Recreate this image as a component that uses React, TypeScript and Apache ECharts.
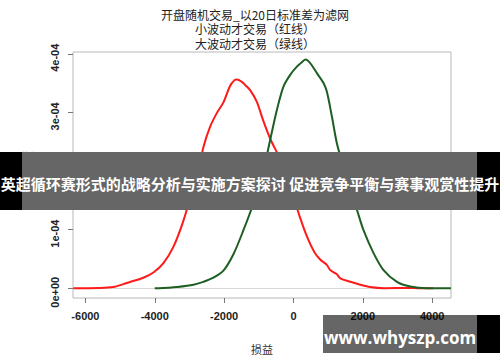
import React, { useEffect, useRef } from "react";
import * as echarts from "echarts";

// Red: small-volatility trades (density, units of 1e-4)
const redX = [-6350, -5600, -5200, -4900, -4700, -4330, -4040, -3750, -3460, -3175, -2886, -2790, -2600, -2400, -2200, -2020, -1830, -1700, -1633, -1490, -1380, -1250, -1056, -866, -670, -480, -380, -190, 0, 193, 390, 600, 770, 960, 1060, 1250, 1350, 1640, 1925, 2210, 2600, 3300, 3600, 4030];
const redY = [0, 0.005, 0.02, 0.07, 0.11, 0.18, 0.27, 0.43, 0.71, 1.15, 1.72, 1.86, 2.4, 2.76, 3.0, 3.17, 3.45, 3.55, 3.56, 3.52, 3.46, 3.38, 3.18, 2.85, 2.55, 2.32, 2.2, 1.95, 1.56, 1.2, 0.88, 0.62, 0.49, 0.4, 0.31, 0.24, 0.17, 0.11, 0.06, 0.02, 0.0, 0.005, 0.0, 0];

// Green: large-volatility trades (density, units of 1e-4)
const greenX = [-4000, -3600, -3365, -2886, -2600, -2309, -2020, -1732, -1443, -1154, -866, -672, -479, -289, -95, 98, 250, 350, 482, 675, 866, 964, 1108, 1253, 1443, 1636, 1830, 2020, 2309, 2597, 2984, 3368, 3850, 4540];
const greenY = [0, 0.01, 0.02, 0.06, 0.11, 0.18, 0.3, 0.58, 0.99, 1.45, 2.02, 2.53, 3.04, 3.44, 3.64, 3.78, 3.86, 3.9, 3.84, 3.67, 3.5, 3.35, 2.93, 2.47, 2.07, 1.68, 1.34, 0.99, 0.6, 0.31, 0.11, 0.03, 0.0, 0];

const xTicks = [-6000, -4000, -2000, 0, 2000, 4000];
const xTickLabels = ["-6000", "-4000", "-2000", "0", "2000", "4000"];
const yTicks = [0, 1e-4, 2e-4, 3e-4, 4e-4];
const yTickLabels = ["0e+00", "1e-04", "2e-04", "3e-04", "4e-04"];

const titleLines = ["开盘随机交易_以20日标准差为滤网", "小波动才交易（红线）", "大波动才交易（绿线）"];
const xName = "损益";
const yName = "概率密度";
const bannerText = "英超循环赛形式的战略分析与实施方案探讨 促进竞争平衡与赛事观赏性提升";
const watermarkText = "www.whyszp.com";

const E4 = 1e-4;

function pick(ticks: number[], labels: string[], v: number, eps: number) {
  const i = ticks.findIndex((t) => Math.abs(t - v) < eps);
  return i >= 0 ? labels[i] : "";
}

export default function App() {
  const ref = useRef<HTMLDivElement>(null);
  useEffect(() => {
    if (!ref.current) return;
    const chart = echarts.init(ref.current, null, { renderer: "svg" });
    const cjk = "'Noto Sans CJK SC', sans-serif";
    const option = {
      animation: false,
      backgroundColor: "#ffffff",
      title: titleLines.map((t, i) => ({
        text: t,
        left: 255,
        top: 7 + i * 14.5,
        padding: 0,
        textAlign: "center",
        textStyle: { fontSize: 12, lineHeight: 14, fontWeight: "normal", color: "#222", fontFamily: cjk },
      })),
      grid: { left: 73, right: 49, top: 52, bottom: 64, show: true, borderColor: "#b8b8b8", borderWidth: 1, backgroundColor: "transparent" },
      xAxis: {
        type: "value",
        min: -6358,
        max: 4543,
        name: xName,
        nameLocation: "middle",
        nameGap: 45,
        nameTextStyle: { fontSize: 11, color: "#333", fontFamily: cjk },
        axisLine: { show: false, onZero: false },
        splitLine: { show: false },
        axisTick: { show: true, length: 5, lineStyle: { color: "#777" }, customValues: xTicks },
        axisLabel: {
          customValues: xTicks,
          margin: 12,
          fontSize: 11,
          fontWeight: "bold",
          color: "#222",
          fontFamily: "'Liberation Sans', Arial, sans-serif",
          formatter: (v: number) => pick(xTicks, xTickLabels, v, 1e-6),
        },
      },
      yAxis: {
        type: "value",
        min: -0.166e-4,
        max: 4.03e-4,
        name: yName,
        nameLocation: "middle",
        nameGap: 40,
        nameTextStyle: { fontSize: 12, color: "#333", fontFamily: cjk },
        axisLine: { show: false, onZero: false },
        splitLine: { show: false },
        axisTick: { show: true, length: 5, lineStyle: { color: "#777" }, customValues: yTicks },
        axisLabel: {
          customValues: yTicks,
          rotate: 90,
          margin: 13,
          padding: [0, 8, 0, 0],
          fontSize: 11,
          fontWeight: "bold",
          color: "#222",
          fontFamily: "'Liberation Sans', Arial, sans-serif",
          formatter: (v: number) => pick(yTicks, yTickLabels, v, 1e-9),
        },
      },
      series: [
        {
          type: "line",
          name: "red",
          data: redX.map((x, i) => [x, redY[i] * E4]),
          smooth: 0.3,
          symbol: "none",
          lineStyle: { color: "#ff1a1a", width: 2 },
          z: 3,
          markLine: {
            silent: true,
            symbol: "none",
            label: { show: false },
            lineStyle: { color: "#d8d8d8", type: "solid", width: 1 },
            data: [{ yAxis: 0 }],
            z: 1,
          },
        },
        {
          type: "line",
          name: "green",
          data: greenX.map((x, i) => [x, greenY[i] * E4]),
          smooth: 0.3,
          symbol: "none",
          lineStyle: { color: "#1d5f22", width: 2 },
          z: 4,
        },
      ],
      graphic: [
        { type: "rect", z: 100, shape: { x: 0, y: 152, width: 500, height: 58 }, style: { fill: "#000" } },
        { type: "rect", z: 101, shape: { x: 22, y: 152, width: 455, height: 58 }, style: { fill: "#ffffff" } },
        { type: "rect", z: 102, shape: { x: 22, y: 152, width: 455, height: 58 }, style: { fill: "rgba(0,0,0,0.6)" } },
        {
          type: "text",
          z: 103,
          x: 250,
          y: 183,
          style: { text: bannerText, fill: "#fff", font: "bold 15px 'Noto Sans CJK SC', sans-serif", align: "center", verticalAlign: "middle" },
        },
        { type: "rect", z: 100, shape: { x: 477, y: 315, width: 23, height: 38 }, style: { fill: "#000" } },
        { type: "rect", z: 100, shape: { x: 323, y: 315, width: 154, height: 38 }, style: { fill: "rgba(0,0,0,0.6)" } },
        {
          type: "text",
          z: 103,
          x: 400,
          y: 337,
          style: { text: watermarkText, fill: "#fff", font: "bold 17px 'Open Sans', 'Noto Sans', sans-serif", align: "center", verticalAlign: "middle" },
        },
      ],
    };
    chart.setOption(option as any);
    return () => chart.dispose();
  }, []);
  return <div ref={ref} style={{ position: "fixed", left: 0, top: 0, width: 500, height: 362, background: "#fff" }} />;
}
